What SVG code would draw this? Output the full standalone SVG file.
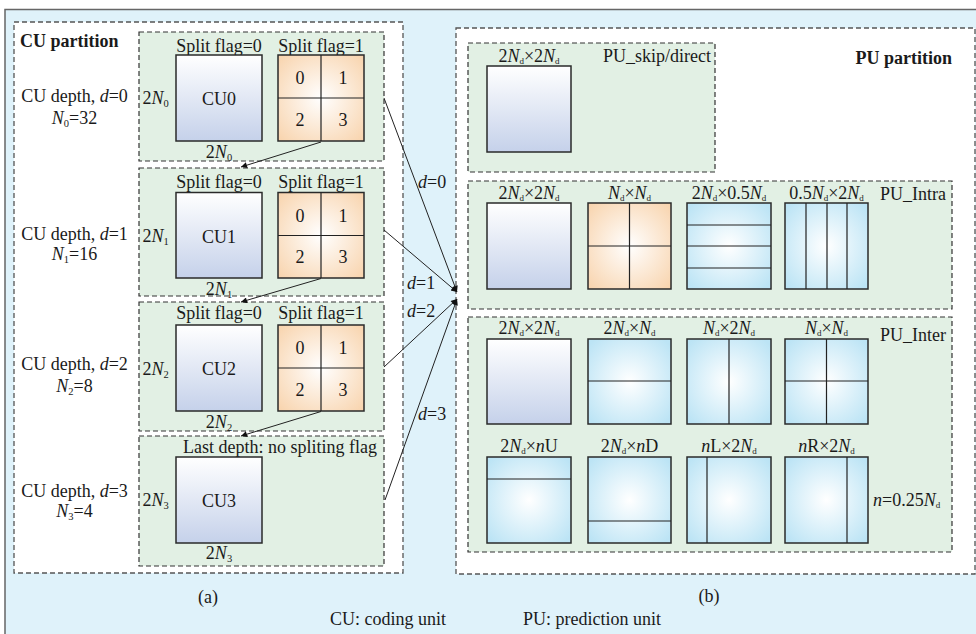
<svg xmlns="http://www.w3.org/2000/svg" width="976" height="634" viewBox="0 0 976 634">
  <defs>
    <style>
      .t { font-family: "Liberation Serif", "Times New Roman", serif; font-size: 18px; fill: #1a1a1a; }
      .b { font-weight: bold; }
      .i { font-style: italic; }
      .s { font-size: 10.5px; }
      .sd { font-size: 9px; }
      .panel { fill: #ffffff; stroke: #555; stroke-width: 1.3; stroke-dasharray: 5 3; }
      .grp { fill: #e2f0e4; stroke: #333; stroke-width: 1.2; stroke-dasharray: 5 3; }
      .sq { stroke: #2a2a2a; stroke-width: 1.5; }
      .cu { fill: url(#cuGrad); }
      .or { fill: url(#orGrad); }
      .bl { fill: url(#blGrad); }
      .div { stroke: #222; stroke-width: 1.2; fill: none; }
      .conn { stroke: #222; stroke-width: 1; fill: none; marker-end: url(#ah); }
    </style>
    <linearGradient id="cuGrad" x1="0" y1="0" x2="0" y2="1">
      <stop offset="0" stop-color="#ffffff"/>
      <stop offset="1" stop-color="#c5d1ea"/>
    </linearGradient>
    <radialGradient id="orGrad" cx="0.5" cy="0.5" r="0.7">
      <stop offset="0" stop-color="#ffffff"/>
      <stop offset="1" stop-color="#f8d3ac"/>
    </radialGradient>
    <radialGradient id="blGrad" cx="0.5" cy="0.5" r="0.65">
      <stop offset="0" stop-color="#ffffff"/>
      <stop offset="1" stop-color="#bce4f5"/>
    </radialGradient>
    <marker id="ah" viewBox="0 0 10 10" refX="10" refY="5" markerWidth="8" markerHeight="6" orient="auto" markerUnits="userSpaceOnUse">
      <path d="M0,0 L10,5 L0,10 z" fill="#111"/>
    </marker>
  </defs>

  <!-- page background and frame -->
  <rect x="0" y="0" width="976" height="634" fill="#ffffff"/>
  <rect x="5" y="9.5" width="985" height="640" fill="#dff2fa" stroke="#666" stroke-width="1.5"/>

  <!-- (a) CU partition panel -->
  <g id="cu-panel">
    <rect class="panel" x="14" y="22" width="389" height="551"/>
    <text class="t b" x="20" y="47">CU partition</text>
  </g>

  <g id="cu-depth0">
    <rect class="grp" x="139" y="32" width="245" height="129"/>
    <text class="t" x="74.5" y="101.5" text-anchor="middle">CU depth, <tspan class="i">d</tspan>=0</text>
    <text class="t" x="74.5" y="124" text-anchor="middle"><tspan class="i">N</tspan><tspan class="s" dy="3">0</tspan><tspan dy="-3">=32</tspan></text>
    <text class="t" x="219" y="51.5" text-anchor="middle">Split flag=0</text>
    <text class="t" x="321" y="51.5" text-anchor="middle">Split flag=1</text>
    <text class="t" x="142.5" y="104">2<tspan class="i">N</tspan><tspan class="s" dy="3">0</tspan></text>
    <rect class="sq cu" x="176" y="55" width="86" height="86"/>
    <text class="t" x="219" y="105" text-anchor="middle">CU0</text>
    <text class="t" x="219" y="157.5" text-anchor="middle">2<tspan class="i">N</tspan><tspan class="s" dy="3">0</tspan></text>
    <rect class="sq or" x="278" y="55" width="86" height="86"/>
    <path class="div" d="M321,55 V141 M278,98 H364"/>
    <text class="t" x="300" y="84" text-anchor="middle">0</text>
    <text class="t" x="343" y="84" text-anchor="middle">1</text>
    <text class="t" x="300" y="126" text-anchor="middle">2</text>
    <text class="t" x="343" y="126" text-anchor="middle">3</text>
  </g>

  <g id="cu-depth1">
    <rect class="grp" x="139" y="168" width="245" height="128"/>
    <text class="t" x="74.5" y="240" text-anchor="middle">CU depth, <tspan class="i">d</tspan>=1</text>
    <text class="t" x="74.5" y="260" text-anchor="middle"><tspan class="i">N</tspan><tspan class="s" dy="3">1</tspan><tspan dy="-3">=16</tspan></text>
    <text class="t" x="219" y="188" text-anchor="middle">Split flag=0</text>
    <text class="t" x="321" y="188" text-anchor="middle">Split flag=1</text>
    <text class="t" x="142.5" y="241.5">2<tspan class="i">N</tspan><tspan class="s" dy="3">1</tspan></text>
    <rect class="sq cu" x="176" y="192.5" width="86" height="85.5"/>
    <text class="t" x="219" y="243" text-anchor="middle">CU1</text>
    <text class="t" x="219" y="294.5" text-anchor="middle">2<tspan class="i">N</tspan><tspan class="s" dy="3">1</tspan></text>
    <rect class="sq or" x="278" y="192.5" width="86" height="85.5"/>
    <path class="div" d="M321,192.5 V278 M278,235.5 H364"/>
    <text class="t" x="300" y="221.5" text-anchor="middle">0</text>
    <text class="t" x="343" y="221.5" text-anchor="middle">1</text>
    <text class="t" x="300" y="263" text-anchor="middle">2</text>
    <text class="t" x="343" y="263" text-anchor="middle">3</text>
  </g>

  <g id="cu-depth2">
    <rect class="grp" x="139" y="302" width="245" height="129"/>
    <text class="t" x="74.5" y="370" text-anchor="middle">CU depth, <tspan class="i">d</tspan>=2</text>
    <text class="t" x="74.5" y="392" text-anchor="middle"><tspan class="i">N</tspan><tspan class="s" dy="3">2</tspan><tspan dy="-3">=8</tspan></text>
    <text class="t" x="219" y="319" text-anchor="middle">Split flag=0</text>
    <text class="t" x="321" y="319" text-anchor="middle">Split flag=1</text>
    <text class="t" x="142.5" y="375">2<tspan class="i">N</tspan><tspan class="s" dy="3">2</tspan></text>
    <rect class="sq cu" x="176" y="325" width="86" height="86"/>
    <text class="t" x="219" y="375" text-anchor="middle">CU2</text>
    <text class="t" x="219" y="427.5" text-anchor="middle">2<tspan class="i">N</tspan><tspan class="s" dy="3">2</tspan></text>
    <rect class="sq or" x="278" y="325" width="86" height="86"/>
    <path class="div" d="M321,325 V411 M278,368 H364"/>
    <text class="t" x="300" y="354" text-anchor="middle">0</text>
    <text class="t" x="343" y="354" text-anchor="middle">1</text>
    <text class="t" x="300" y="396" text-anchor="middle">2</text>
    <text class="t" x="343" y="396" text-anchor="middle">3</text>
  </g>

  <g id="cu-depth3">
    <rect class="grp" x="139" y="436" width="245" height="130"/>
    <text class="t" x="74.5" y="496.5" text-anchor="middle">CU depth, <tspan class="i">d</tspan>=3</text>
    <text class="t" x="74.5" y="517" text-anchor="middle"><tspan class="i">N</tspan><tspan class="s" dy="3">3</tspan><tspan dy="-3">=4</tspan></text>
    <text class="t" x="280" y="453" text-anchor="middle">Last depth: no spliting flag</text>
    <text class="t" x="142.5" y="506">2<tspan class="i">N</tspan><tspan class="s" dy="3">3</tspan></text>
    <rect class="sq cu" x="176" y="457" width="86" height="86"/>
    <text class="t" x="219" y="507" text-anchor="middle">CU3</text>
    <text class="t" x="219" y="559" text-anchor="middle">2<tspan class="i">N</tspan><tspan class="s" dy="3">3</tspan></text>
  </g>

  <!-- (b) PU partition panel -->
  <g id="pu-panel">
    <rect class="panel" x="456" y="28" width="519" height="546"/>
    <text class="t b" x="952" y="64" text-anchor="end">PU partition</text>
  </g>

  <g id="pu-skip">
    <rect class="grp" x="468" y="43" width="247" height="129"/>
    <text class="t" x="529" y="62" text-anchor="middle">2<tspan class="i">N</tspan><tspan class="sd" dy="2">d</tspan><tspan dy="-2">×2</tspan><tspan class="i">N</tspan><tspan class="sd" dy="2">d</tspan></text>
    <text class="t" x="711" y="62" text-anchor="end">PU_skip/direct</text>
    <rect class="sq cu" x="487" y="66" width="84" height="86"/>
  </g>

  <g id="pu-intra">
    <rect class="grp" x="468" y="181" width="484" height="128"/>
    <text class="t" x="946" y="200" text-anchor="end">PU_Intra</text>
    <text class="t" x="529" y="199" text-anchor="middle">2<tspan class="i">N</tspan><tspan class="sd" dy="2">d</tspan><tspan dy="-2">×2</tspan><tspan class="i">N</tspan><tspan class="sd" dy="2">d</tspan></text>
    <text class="t" x="629.5" y="199" text-anchor="middle"><tspan class="i">N</tspan><tspan class="sd" dy="2">d</tspan><tspan dy="-2">×</tspan><tspan class="i">N</tspan><tspan class="sd" dy="2">d</tspan></text>
    <text class="t" x="729" y="199" text-anchor="middle">2<tspan class="i">N</tspan><tspan class="sd" dy="2">d</tspan><tspan dy="-2">×0.5</tspan><tspan class="i">N</tspan><tspan class="sd" dy="2">d</tspan></text>
    <text class="t" x="826.5" y="199" text-anchor="middle">0.5<tspan class="i">N</tspan><tspan class="sd" dy="2">d</tspan><tspan dy="-2">×2</tspan><tspan class="i">N</tspan><tspan class="sd" dy="2">d</tspan></text>
    <rect class="sq cu" x="487" y="203" width="84" height="86"/>
    <rect class="sq or" x="588" y="203" width="83" height="86"/>
    <path class="div" d="M629.5,203 V289 M588,246 H671"/>
    <rect class="sq bl" x="687" y="203" width="84" height="86"/>
    <path class="div" d="M687,225 H771 M687,246 H771 M687,268 H771"/>
    <rect class="sq bl" x="785" y="203" width="83" height="86"/>
    <path class="div" d="M806,203 V289 M827,203 V289 M847,203 V289"/>
  </g>

  <g id="pu-inter">
    <rect class="grp" x="468" y="317" width="484" height="235"/>
    <text class="t" x="946" y="341" text-anchor="end">PU_Inter</text>
    <text class="t" x="873" y="506"><tspan class="i">n</tspan>=0.25<tspan class="i">N</tspan><tspan class="sd" dy="2">d</tspan></text>
    <!-- symmetric partitions -->
    <text class="t" x="529" y="334" text-anchor="middle">2<tspan class="i">N</tspan><tspan class="sd" dy="2">d</tspan><tspan dy="-2">×2</tspan><tspan class="i">N</tspan><tspan class="sd" dy="2">d</tspan></text>
    <text class="t" x="629.5" y="334" text-anchor="middle">2<tspan class="i">N</tspan><tspan class="sd" dy="2">d</tspan><tspan dy="-2">×</tspan><tspan class="i">N</tspan><tspan class="sd" dy="2">d</tspan></text>
    <text class="t" x="729" y="334" text-anchor="middle"><tspan class="i">N</tspan><tspan class="sd" dy="2">d</tspan><tspan dy="-2">×2</tspan><tspan class="i">N</tspan><tspan class="sd" dy="2">d</tspan></text>
    <text class="t" x="826.5" y="334" text-anchor="middle"><tspan class="i">N</tspan><tspan class="sd" dy="2">d</tspan><tspan dy="-2">×</tspan><tspan class="i">N</tspan><tspan class="sd" dy="2">d</tspan></text>
    <rect class="sq cu" x="487" y="339" width="84" height="85"/>
    <rect class="sq bl" x="588" y="339" width="83" height="85"/>
    <path class="div" d="M588,381 H671"/>
    <rect class="sq bl" x="687" y="339" width="84" height="85"/>
    <path class="div" d="M729,339 V424"/>
    <rect class="sq bl" x="785" y="339" width="83" height="85"/>
    <path class="div" d="M826.5,339 V424 M785,381 H868"/>
    <!-- asymmetric partitions -->
    <text class="t" x="529" y="452" text-anchor="middle">2<tspan class="i">N</tspan><tspan class="sd" dy="2">d</tspan><tspan dy="-2">×</tspan><tspan class="i">n</tspan>U</text>
    <text class="t" x="629.5" y="452" text-anchor="middle">2<tspan class="i">N</tspan><tspan class="sd" dy="2">d</tspan><tspan dy="-2">×</tspan><tspan class="i">n</tspan>D</text>
    <text class="t" x="729" y="452" text-anchor="middle"><tspan class="i">n</tspan>L×2<tspan class="i">N</tspan><tspan class="sd" dy="2">d</tspan></text>
    <text class="t" x="826.5" y="452" text-anchor="middle"><tspan class="i">n</tspan>R×2<tspan class="i">N</tspan><tspan class="sd" dy="2">d</tspan></text>
    <rect class="sq bl" x="487" y="457" width="84" height="86"/>
    <path class="div" d="M487,479 H571"/>
    <rect class="sq bl" x="588" y="457" width="83" height="86"/>
    <path class="div" d="M588,521 H671"/>
    <rect class="sq bl" x="687" y="457" width="84" height="86"/>
    <path class="div" d="M707,457 V543"/>
    <rect class="sq bl" x="785" y="457" width="83" height="86"/>
    <path class="div" d="M847,457 V543"/>
  </g>

  <!-- connectors -->
  <g id="connectors">
    <line class="conn" x1="321" y1="142" x2="241" y2="167"/>
    <line class="conn" x1="321" y1="278.5" x2="241" y2="302"/>
    <line class="conn" x1="321" y1="411.5" x2="241" y2="436"/>
    <line class="conn" x1="384" y1="98" x2="457" y2="292"/>
    <line class="conn" x1="384" y1="230" x2="457" y2="292"/>
    <line class="conn" x1="384" y1="367" x2="457" y2="299"/>
    <line class="conn" x1="385" y1="500" x2="457" y2="299"/>
    <text class="t" x="418" y="188"><tspan class="i">d</tspan>=0</text>
    <text class="t" x="407" y="289"><tspan class="i">d</tspan>=1</text>
    <text class="t" x="407" y="317"><tspan class="i">d</tspan>=2</text>
    <text class="t" x="418" y="420"><tspan class="i">d</tspan>=3</text>
  </g>

  <!-- captions -->
  <g id="captions">
    <text class="t" x="208" y="603" text-anchor="middle">(a)</text>
    <text class="t" x="709" y="602" text-anchor="middle">(b)</text>
    <text class="t" x="330" y="625">CU: coding unit</text>
    <text class="t" x="523" y="625">PU: prediction unit</text>
  </g>
</svg>
